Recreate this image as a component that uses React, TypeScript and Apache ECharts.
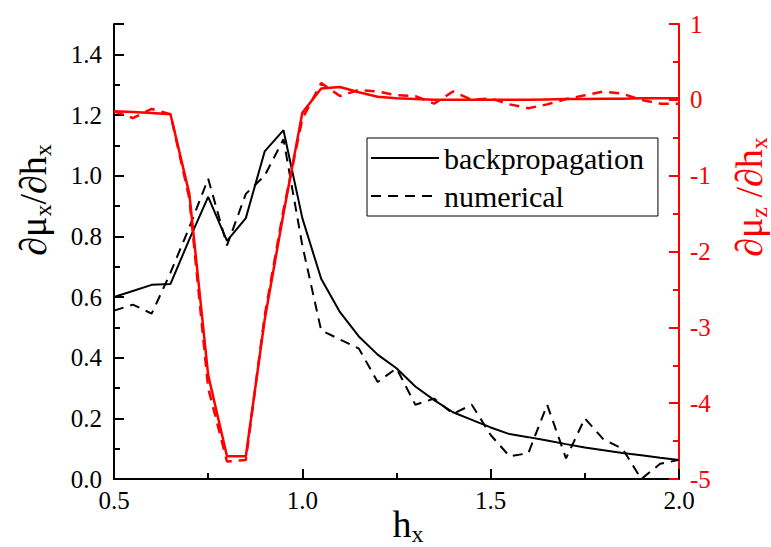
import React, { useEffect, useRef } from 'react';
import * as echarts from 'echarts';

const FONT = '"Liberation Serif", "Times New Roman", serif';

const hxValues = [0.5, 0.55, 0.6, 0.65, 0.7, 0.75, 0.8, 0.85, 0.9, 0.95, 1.0, 1.05, 1.1, 1.15, 1.2, 1.25, 1.3, 1.35, 1.4, 1.45, 1.5, 1.55, 1.6, 1.65, 1.7, 1.75, 1.8, 1.85, 1.9, 1.95, 2.0];

const muxBackprop = [0.6, 0.62, 0.64, 0.643, 0.79, 0.93, 0.785, 0.86, 1.08, 1.15, 0.86, 0.66, 0.55, 0.47, 0.41, 0.365, 0.305, 0.26, 0.22, 0.195, 0.17, 0.148, 0.138, 0.127, 0.115, 0.104, 0.095, 0.086, 0.078, 0.07, 0.063];
const muxNumerical = [0.555, 0.575, 0.545, 0.68, 0.83, 0.99, 0.77, 0.94, 1.0, 1.12, 0.77, 0.49, 0.46, 0.43, 0.32, 0.365, 0.245, 0.265, 0.215, 0.245, 0.145, 0.075, 0.085, 0.245, 0.068, 0.2, 0.13, 0.1, 0.0, 0.05, 0.063];

const muzBackprop = [-0.15, -0.16, -0.175, -0.19, -1.24, -3.63, -4.7, -4.7, -2.9, -1.5, -0.17, 0.15, 0.17, 0.1, 0.04, 0.02, 0.01, 0.0, 0.0, 0.0, 0.0, 0.0, 0.0, 0.005, 0.01, 0.01, 0.015, 0.015, 0.02, 0.02, 0.02];
const muzNumerical = [-0.15, -0.24, -0.12, -0.19, -1.3, -3.8, -4.77, -4.75, -2.85, -1.45, -0.25, 0.22, 0.05, 0.13, 0.11, 0.06, 0.05, -0.05, 0.11, 0.0, 0.02, -0.06, -0.11, -0.06, 0.01, 0.06, 0.11, 0.08, 0.0, -0.05, -0.05];

const legendNames = ['backpropagation', 'numerical'];

const pairs = (ys: number[]) => hxValues.map((x, i) => [x, ys[i]]);

const RED = '#ff0000';
const LABEL_SIZE = 25;

export default function App() {
  const ref = useRef<HTMLDivElement>(null);
  useEffect(() => {
    const chart = echarts.init(ref.current!, null, { renderer: 'svg' });
    const option: any = {
      animation: false,
      backgroundColor: '#fff',
      textStyle: { fontFamily: FONT },
      grid: { left: 114, right: 92, top: 24, bottom: 68, containLabel: false },
      legend: {
        data: legendNames,
        orient: 'vertical',
        left: 367,
        top: 138,
        itemWidth: 68,
        itemHeight: 14,
        itemGap: 8,
        padding: [5, 14, 5, 3],
        borderColor: '#000',
        borderWidth: 1,
        backgroundColor: '#fff',
        itemStyle: { opacity: 0, borderWidth: 0 },
        textStyle: { fontFamily: FONT, fontSize: 30, color: '#000', lineHeight: 30 },
      },
      xAxis: {
        type: 'value',
        min: 0.5,
        max: 2.0,
        interval: 0.5,
        axisLine: { show: true, lineStyle: { color: '#000', width: 2 } },
        axisTick: { show: true, inside: true, length: 10, lineStyle: { color: '#000', width: 2 } },
        minorTick: { show: true, splitNumber: 2, length: 6, lineStyle: { color: '#000', width: 2 } },
        splitLine: { show: false },
        axisLabel: {
          fontFamily: FONT, fontSize: LABEL_SIZE, color: '#000', margin: 9,
          formatter: (v: number) => v.toFixed(1),
        },
      },
      yAxis: [
        {
          type: 'value',
          position: 'left',
          min: 0,
          max: 1.5,
          interval: 0.2,
          axisLine: { show: true, lineStyle: { color: '#000', width: 2 } },
          axisTick: { show: true, inside: true, length: 10, lineStyle: { color: '#000', width: 2 } },
          minorTick: { show: true, splitNumber: 2, length: 6, lineStyle: { color: '#000', width: 2 } },
          splitLine: { show: false },
          axisLabel: {
            fontFamily: FONT, fontSize: LABEL_SIZE, color: '#000', margin: 12, showMaxLabel: false,
            formatter: (v: number) => v.toFixed(1),
          },
        },
        {
          type: 'value',
          position: 'right',
          min: -5,
          max: 1,
          interval: 1,
          axisLine: { show: true, lineStyle: { color: RED, width: 2 } },
          axisTick: { show: true, inside: true, length: 10, lineStyle: { color: RED, width: 2 } },
          minorTick: { show: true, splitNumber: 2, length: 6, lineStyle: { color: RED, width: 2 } },
          splitLine: { show: false },
          axisLabel: {
            fontFamily: FONT, fontSize: LABEL_SIZE, color: RED, margin: 11,
            formatter: (v: number) => String(v),
          },
        },
      ],
      series: [
        {
          name: 'backpropagation', type: 'line', yAxisIndex: 0, data: pairs(muxBackprop), symbol: 'none',
          color: '#000', lineStyle: { color: '#000', width: 2 },
        },
        {
          name: 'numerical', type: 'line', yAxisIndex: 0, data: pairs(muxNumerical), symbol: 'none',
          color: '#000', lineStyle: { color: '#000', width: 2, type: [10, 7] },
        },
        {
          name: 'backpropagation z', type: 'line', yAxisIndex: 1, data: pairs(muzBackprop), symbol: 'none',
          color: RED, lineStyle: { color: RED, width: 2.5 },
        },
        {
          name: 'numerical z', type: 'line', yAxisIndex: 1, data: pairs(muzNumerical), symbol: 'none',
          color: RED, lineStyle: { color: RED, width: 2.5, type: [10, 7] },
        },
      ],
      graphic: [
        {
          type: 'text', x: 33, y: 200, rotation: Math.PI / 2,
          style: {
            text: '{a|∂μ}{s|x}{a|/∂h}{s|x}',
            align: 'center', verticalAlign: 'middle',
            rich: {
              a: { fontFamily: FONT, fontSize: 38, fill: '#000' },
              s: { fontFamily: FONT, fontSize: 24, fill: '#000', padding: [20, 0, 0, 0] },
            },
          },
        },
        {
          type: 'text', x: 749, y: 197, rotation: Math.PI / 2,
          style: {
            text: '{a|∂μ}{s|z}{a| /∂h}{s|x}',
            align: 'center', verticalAlign: 'middle',
            rich: {
              a: { fontFamily: FONT, fontSize: 38, fill: RED },
              s: { fontFamily: FONT, fontSize: 24, fill: RED, padding: [20, 0, 0, 0] },
            },
          },
        },
        {
          type: 'text', x: 408, y: 524,
          style: {
            text: '{a|h}{s|x}',
            align: 'center', verticalAlign: 'middle',
            rich: {
              a: { fontFamily: FONT, fontSize: 38, fill: '#000' },
              s: { fontFamily: FONT, fontSize: 24, fill: '#000', padding: [20, 0, 0, 0] },
            },
          },
        },
      ],
    };
    chart.setOption(option);
    return () => chart.dispose();
  }, []);
  return <div ref={ref} style={{ position: 'absolute', left: 0, top: 0, width: 771, height: 547 }} />;
}
